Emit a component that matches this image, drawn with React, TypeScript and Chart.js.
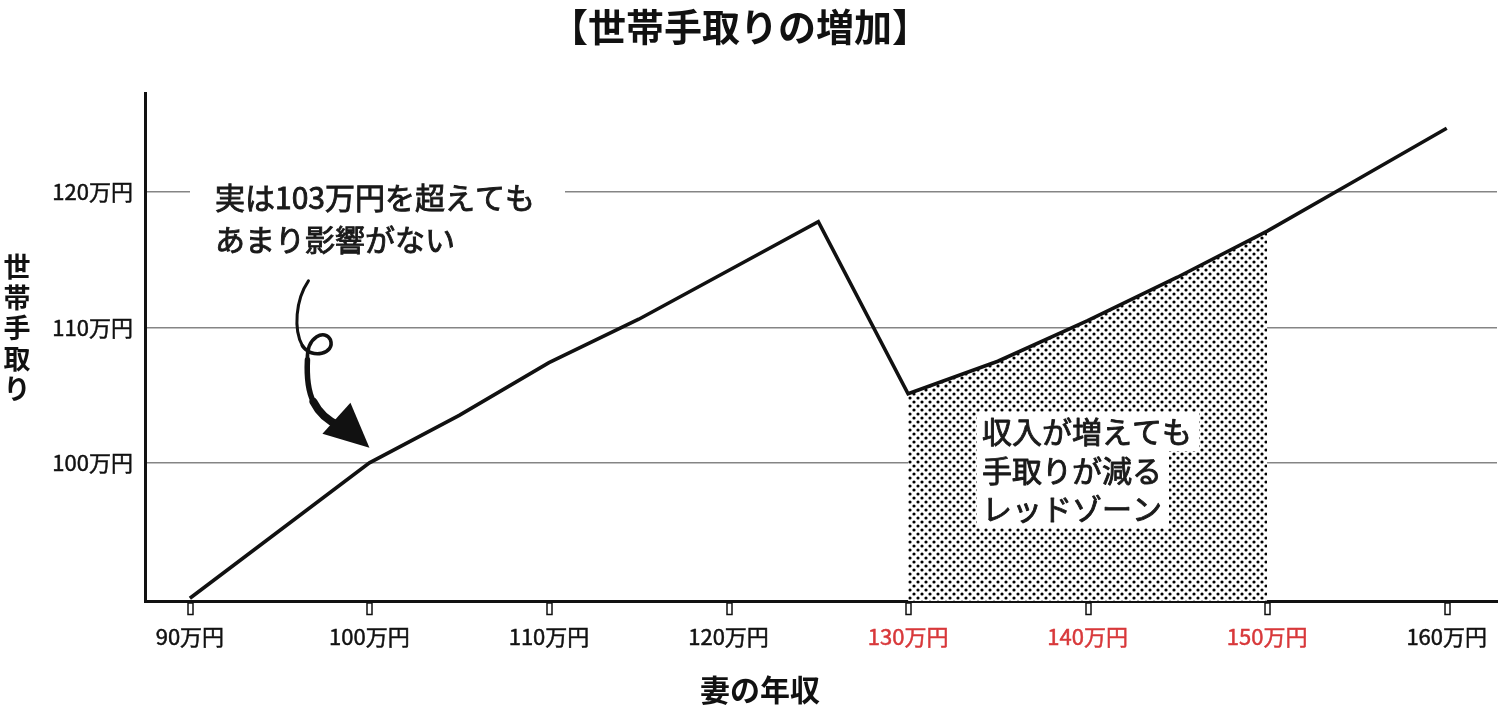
import { useEffect, useRef } from 'react';
import { Chart, registerables } from 'chart.js';

Chart.register(...registerables);

const FONT = '"Noto Sans CJK JP", "Noto Sans", sans-serif';

// ============= DATA =============
// 妻の年収 (万円)
const incomes = [90, 100, 105, 110, 115, 120, 125, 130, 135, 140, 145, 150, 155, 160];
// 世帯手取り (万円)
const takeHome = [90, 100, 103.5, 107.4, 110.6, 114.2, 117.8, 105.1, 107.5, 110.5, 113.7, 117.1, 120.9, 124.7];
const xTicks = [90, 100, 110, 120, 130, 140, 150, 160];
const yTicks = [100, 110, 120];
const redZone = [130, 150];

const chartTitle = '【世帯手取りの増加】';
const xTitle = '妻の年収';
const yTitle = '世帯手取り';
const note1 = ['実は103万円を超えても', 'あまり影響がない'];
const note2 = ['収入が増えても', '手取りが減る', 'レッドゾーン'];

// dotted screen tone for the red zone
const makeDots = (ctx: CanvasRenderingContext2D) => {
    const c = document.createElement('canvas');
    c.width = 8;
    c.height = 8;
    const g = c.getContext('2d')!;
    g.fillStyle = '#fff';
    g.fillRect(0, 0, 8, 8);
    g.fillStyle = '#000';
    g.beginPath();
    g.arc(2, 2, 1.6, 0, Math.PI * 2);
    g.moveTo(7.6, 6);
    g.arc(6, 6, 1.6, 0, Math.PI * 2);
    g.fill();
    return ctx.createPattern(c, 'repeat');
};

// regular weight with a thin outline, reads like a medium weight
const medText = (ctx: CanvasRenderingContext2D, t: string, x: number, y: number) => {
    ctx.fillText(t, x, y);
    ctx.strokeText(t, x, y);
};

// ============= DECORATION PLUGIN =============
const decor = {
    id: 'decor',
    beforeDraw(chart: any) {
        const { ctx, width, height } = chart;
        ctx.save();
        ctx.fillStyle = '#fff';
        ctx.fillRect(0, 0, width, height);
        ctx.restore();
    },
    afterDatasetsDraw(chart: any) {
        const { ctx } = chart;
        const x = chart.scales.x;
        const y = chart.scales.y;
        ctx.save();

        // note 1 (white box hides the grid line)
        ctx.fillStyle = '#fff';
        ctx.fillRect(190, 172, 375, 88);
        ctx.fillStyle = '#1a1a1a';
        ctx.strokeStyle = '#1a1a1a';
        ctx.lineWidth = 0.9;
        ctx.font = `30px ${FONT}`;
        ctx.textBaseline = 'middle';
        ctx.textAlign = 'left';
        note1.forEach((t, i) => medText(ctx, t, 215, 198 + i * 42));

        // curly arrow pointing at (100, 100)
        const px = x.getPixelForValue(100);
        const py = y.getPixelForValue(100);
        const ox = px - 370;
        const oy = py - 463;
        ctx.strokeStyle = '#111';
        ctx.fillStyle = '#111';
        ctx.lineCap = 'round';
        ctx.lineJoin = 'round';
        ctx.lineWidth = 3;
        ctx.beginPath();
        ctx.moveTo(ox + 309, oy + 281);
        ctx.bezierCurveTo(ox + 296, oy + 300, ox + 294, oy + 330, ox + 303, oy + 346);
        ctx.stroke();
        ctx.lineWidth = 3.6;
        ctx.beginPath();
        ctx.moveTo(ox + 303, oy + 346);
        ctx.bezierCurveTo(ox + 312, oy + 360, ox + 336, oy + 354, ox + 331, oy + 340);
        ctx.bezierCurveTo(ox + 326, oy + 329, ox + 307, oy + 336, ox + 308, oy + 360);
        ctx.stroke();
        ctx.lineWidth = 5.5;
        ctx.beginPath();
        ctx.moveTo(ox + 308, oy + 360);
        ctx.bezierCurveTo(ox + 307, oy + 380, ox + 309, oy + 392, ox + 314, oy + 402);
        ctx.stroke();
        ctx.lineWidth = 8;
        ctx.beginPath();
        ctx.moveTo(ox + 314, oy + 402);
        ctx.bezierCurveTo(ox + 320, oy + 414, ox + 328, oy + 421, ox + 340, oy + 426);
        ctx.stroke();
        ctx.beginPath();
        ctx.moveTo(ox + 323, oy + 434);
        ctx.lineTo(ox + 351, oy + 403);
        ctx.lineTo(ox + 370, oy + 448);
        ctx.closePath();
        ctx.fill();

        // note 2 inside the red zone
        ctx.font = `30px ${FONT}`;
        note2.forEach((t, i) => {
            const cy = 432 + i * 38.5;
            const w = ctx.measureText(t).width;
            ctx.fillStyle = '#fff';
            ctx.fillRect(977, cy - 20, w + 12, 39);
        });
        ctx.fillStyle = '#1a1a1a';
        ctx.strokeStyle = '#1a1a1a';
        ctx.lineWidth = 0.9;
        note2.forEach((t, i) => medText(ctx, t, 982, 432 + i * 38.5));
        ctx.restore();
    },
    afterDraw(chart: any) {
        const { ctx } = chart;
        const x = chart.scales.x;
        ctx.save();

        // hollow tick marks under the x axis
        ctx.strokeStyle = '#111';
        ctx.fillStyle = '#fff';
        ctx.lineWidth = 1.5;
        xTicks.forEach(v => {
            const px = Math.round(x.getPixelForValue(v));
            ctx.fillRect(px - 2, 603, 5, 12);
            ctx.strokeRect(px - 2, 603, 5, 11.5);
        });

        ctx.fillStyle = '#111';
        ctx.textAlign = 'center';
        ctx.textBaseline = 'middle';
        ctx.font = `bold 38px ${FONT}`;
        ctx.fillText(chartTitle, 740, 27);
        ctx.font = `bold 30px ${FONT}`;
        ctx.fillText(xTitle, 760, 690);
        ctx.font = `bold 27px ${FONT}`;
        Array.from(yTitle).forEach((ch, i) => ctx.fillText(ch, 17, 267 + i * 30.5));
        ctx.restore();
    },
};

// ============= CHART COMPONENT =============
const TakeHomeChart = () => {
    const chartRef = useRef<HTMLCanvasElement>(null);
    const chartInstance = useRef<Chart | null>(null);

    useEffect(() => {
        if (!chartRef.current) return;
        if (chartInstance.current) chartInstance.current.destroy();
        const ctx = chartRef.current.getContext('2d');
        if (!ctx) return;

        const points = incomes.map((v, i) => ({ x: v, y: takeHome[i] }));
        const zone = points.filter(p => p.x >= redZone[0] && p.x <= redZone[1]);
        const inZone = (c: any) =>
            c.tick && c.tick.value >= redZone[0] && c.tick.value <= redZone[1] ? '#d8383a' : '#111';

        chartInstance.current = new Chart(ctx, {
            type: 'line',
            data: {
                datasets: [
                    {
                        data: points,
                        borderColor: '#111',
                        borderWidth: 3.6,
                        pointRadius: 0,
                        tension: 0,
                        fill: false,
                    },
                    {
                        data: zone,
                        borderWidth: 0,
                        borderColor: 'rgba(0,0,0,0)',
                        backgroundColor: makeDots(ctx) as any,
                        pointRadius: 0,
                        tension: 0,
                        fill: 'start',
                    },
                ],
            },
            options: {
                animation: false,
                responsive: true,
                maintainAspectRatio: false,
                layout: { padding: { top: 93, right: 3, left: 0, bottom: 0 } },
                plugins: {
                    legend: { display: false },
                    tooltip: { enabled: false },
                    title: { display: false },
                },
                scales: {
                    x: {
                        type: 'linear',
                        min: 87.5,
                        max: 162.8,
                        afterBuildTicks: (s: any) => {
                            s.ticks = xTicks.map(v => ({ value: v }));
                        },
                        afterFit: (s: any) => {
                            s.height = 110;
                            s.paddingLeft = 0;
                            s.paddingRight = 0;
                        },
                        grid: { display: false, drawTicks: false },
                        border: { display: true, color: '#111', width: 3 },
                        ticks: {
                            padding: 22,
                            autoSkip: false,
                            maxRotation: 0,
                            font: { family: FONT, size: 22 },
                            textStrokeWidth: 0.5,
                            textStrokeColor: inZone,
                            color: inZone,
                            callback: (v: any) => `${v}万円`,
                        },
                    },
                    y: {
                        min: 89.8,
                        max: 127.3,
                        afterBuildTicks: (s: any) => {
                            s.ticks = yTicks.map(v => ({ value: v }));
                        },
                        afterFit: (s: any) => {
                            s.width = 145;
                            s.paddingTop = 0;
                            s.paddingBottom = 0;
                        },
                        grid: { color: '#858585', lineWidth: 1.5, drawTicks: false },
                        border: { display: true, color: '#111', width: 3 },
                        ticks: {
                            padding: 12,
                            font: { family: FONT, size: 22 },
                            textStrokeWidth: 0.5,
                            textStrokeColor: '#111',
                            color: '#111',
                            callback: (v: any) => `${v}万円`,
                        },
                    },
                },
            },
            plugins: [decor],
        });

        return () => {
            if (chartInstance.current) {
                chartInstance.current.destroy();
                chartInstance.current = null;
            }
        };
    }, []);

    return (
        <div style={{ position: 'fixed', left: 0, top: 0, width: 1500, height: 711, background: '#fff' }}>
            <canvas ref={chartRef}></canvas>
        </div>
    );
};

export default function App() {
    return <TakeHomeChart />;
}
